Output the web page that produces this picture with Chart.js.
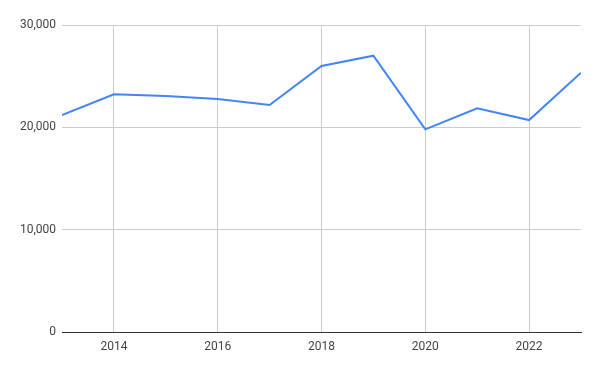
<!DOCTYPE html>
<html>
<head>
<meta charset="utf-8">
<script src="https://cdn.jsdelivr.net/npm/chart.js@4"></script>
<style>
  html, body { margin: 0; padding: 0; background: #fff; }
  #wrap { width: 600px; height: 371px; }
</style>
</head>
<body>
<div id="wrap"><canvas id="myChart"></canvas></div>
<script>
const years = [2013, 2014, 2015, 2016, 2017, 2018, 2019, 2020, 2021, 2022, 2023];
const values = [21200, 23230, 23060, 22770, 22180, 25990, 27000, 19800, 21860, 20710, 25340];
const xTicks = [2014, 2016, 2018, 2020, 2022];
const yTicks = [0, 10000, 20000, 30000];

const points = years.map((y, i) => ({ x: y, y: values[i] }));

new Chart(document.getElementById('myChart'), {
  type: 'line',
  data: {
    datasets: [{
      data: points,
      borderColor: '#4285F4',
      borderWidth: 2,
      pointRadius: 0,
      tension: 0,
      fill: false
    }]
  },
  options: {
    responsive: true,
    maintainAspectRatio: false,
    animation: false,
    layout: { padding: { top: 25, right: 19, left: 0, bottom: 0 } },
    plugins: { legend: { display: false }, tooltip: { enabled: false } },
    scales: {
      x: {
        type: 'linear',
        min: 2013,
        max: 2023,
        afterBuildTicks: s => { s.ticks = xTicks.map(v => ({ value: v })); },
        afterFit: s => { s.height = 39; },
        grid: { color: '#cccccc', drawTicks: false },
        border: { display: true, color: '#333333', width: 1 },
        ticks: {
          padding: 8,
          color: '#444444',
          font: { family: 'Roboto', size: 12 },
          maxRotation: 0,
          callback: v => String(v)
        }
      },
      y: {
        min: 0,
        max: 30000,
        afterBuildTicks: s => { s.ticks = yTicks.map(v => ({ value: v })); },
        afterFit: s => { s.width = 62; },
        grid: { color: '#cccccc', drawTicks: false },
        border: { display: false },
        ticks: {
          padding: 6,
          color: '#444444',
          font: { family: 'Roboto', size: 12 },
          callback: v => v.toLocaleString('en-US')
        }
      }
    }
  }
});
</script>
</body>
</html>
